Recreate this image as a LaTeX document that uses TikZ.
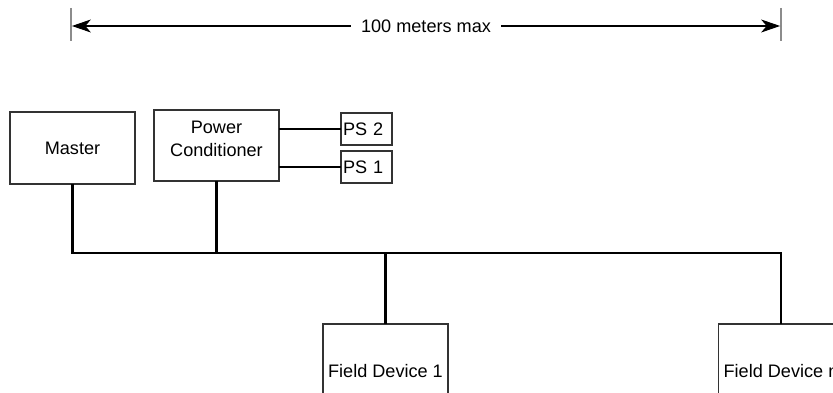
\documentclass[tikz,border=0pt]{standalone}
\usepackage{fontspec}
\setmainfont{Liberation Sans}
\usetikzlibrary{arrows.meta}

\begin{document}
\begin{tikzpicture}[font=\fontsize{10.3}{13.1}\selectfont,>={Stealth[length=0.38cm,width=0.26cm,inset=0.11cm]},x=1cm,y=1cm]
    \tikzset{
        unit/.style={
            draw=black!80,line width=0.6pt,
            minimum width=2.50cm,minimum height=1.44cm,
            inner sep=2pt,outer sep=0pt,align=center
        },
        supply/.style={unit,minimum width=1.02cm,minimum height=0.64cm,
            text width=0.94cm,align=left,inner xsep=0.04cm},
        device/.style={unit,minimum height=1.88cm},
        bus/.style={line width=1.4pt},
        tick/.style={draw=black!45,line width=1pt}
    }
    \clip (0,0) rectangle (16.66,-7.86);

    % distance ruler
    \coordinate (ruler-l) at (1.42,-0.52);
    \coordinate (ruler-r) at (15.62,-0.52);
    \draw[tick] (1.42,-0.16) -- (1.42,-0.82);
    \draw[tick] (15.62,-0.16) -- (15.62,-0.82);
    \draw[<->,line width=0.6pt,shorten <=0.5pt,shorten >=0.5pt] (ruler-l) -- (ruler-r)
        node[midway,fill=white,inner xsep=0.2cm] (ruler-text) {100 meters max};

    % master and power
    \node[unit] (master) at (1.45,-2.96) {Master};
    \node[unit,minimum height=1.42cm] (conditioner) at (4.33,-2.91) {};
    \node[anchor=north,align=center,inner sep=0pt]
        (conditioner-text) at ([yshift=-0.22cm]conditioner.north)
        {Power\\Conditioner};
    \node[supply] (ps2) at (7.33,-2.58) {PS 2};
    \node[supply] (ps1) at (7.33,-3.34) {PS 1};

    \draw[bus] (ps2.west -| conditioner.east) -- (ps2.west);
    \draw[bus] (ps1.west -| conditioner.east) -- (ps1.west);

    % field devices
    \node[device] (device1) at (7.71,-7.42) {Field Device 1};
    \node[device] (devicen) at (15.62,-7.42) {Field Device n};

    % trunk line
    \coordinate (trunk) at (0,-5.06);
    \draw[bus] (master.south) -- (master.south |- trunk) -| (devicen.north);
    \draw[bus] (conditioner.south) -- (conditioner.south |- trunk);
    \draw[bus] (device1.north) -- (device1.north |- trunk);
\end{tikzpicture}
\end{document}
